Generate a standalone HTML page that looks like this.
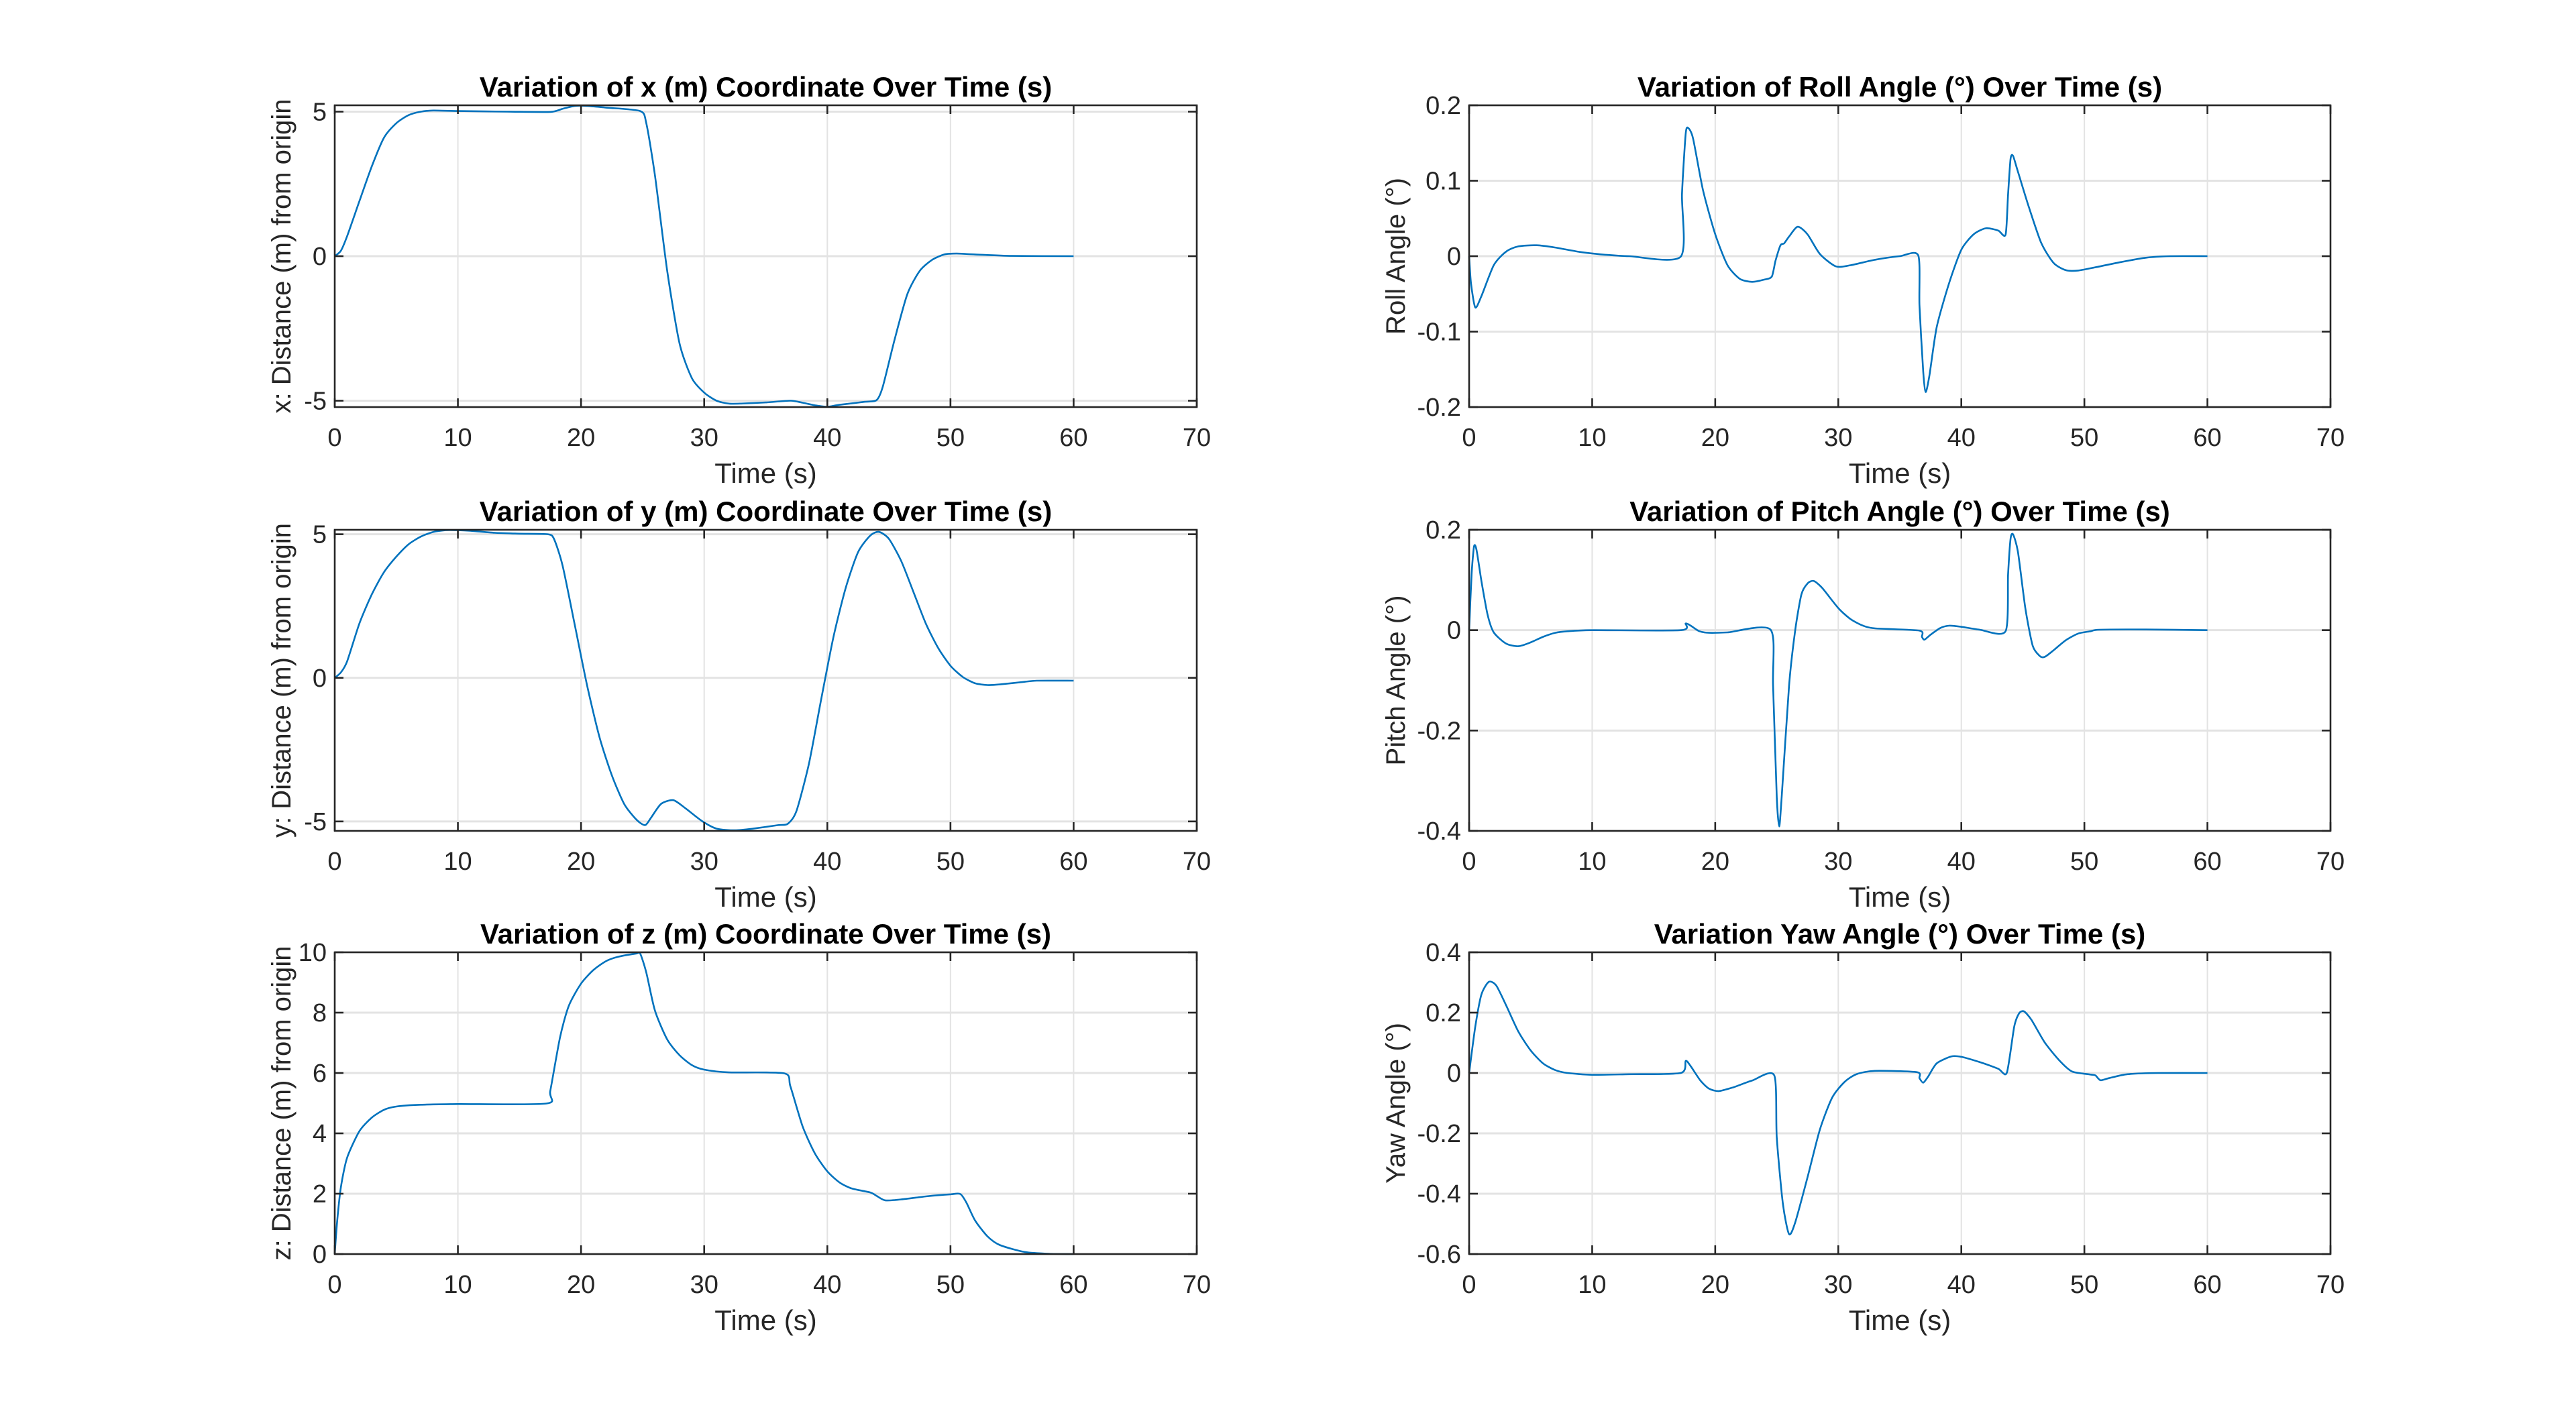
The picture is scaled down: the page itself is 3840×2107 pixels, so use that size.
<!DOCTYPE html>
<html><head><meta charset="utf-8"><title>Drone trajectory and attitude over time</title>
<style>
html,body{margin:0;padding:0;background:#fff;}
svg{display:block;}
text{font-family:"Liberation Sans",Arial,sans-serif;fill:#262626;}
</style></head>
<body>
<svg id="fig" width="3840" height="2107" viewBox="0 0 3840 2107" xmlns="http://www.w3.org/2000/svg">
<rect width="3840" height="2107" fill="#fff"/>
</svg>
<script>
// ---- data (time in s) ----
const xTicks = [0,10,20,30,40,50,60,70];

const tX = [0,0.5,1,2,3,4,5,6,7,8,10,14,17.5,18.5,19.5,20.5,22,24.8,25.3,26,27,28,29,30,31,32,33,35,37,38,39,40,41,43,44,44.5,45.5,46.5,47.5,48.5,49.5,50.5,52,55,60];
const vX = [0,0.19,0.69,1.9,3.1,4.1,4.6,4.88,5.0,5.04,5.02,5.0,4.99,5.1,5.2,5.2,5.14,5.02,4.6,2.8,-0.51,-3.02,-4.22,-4.72,-5.0,-5.1,-5.1,-5.06,-5.0,-5.07,-5.16,-5.21,-5.14,-5.04,-4.98,-4.52,-2.82,-1.31,-0.51,-0.13,0.06,0.09,0.06,0.01,0];

const tY = [0,0.5,1,2,3,4,5,6,7,8,9,10,11,13,15,17.3,17.8,18.5,19.5,20.5,21.5,22.5,23.5,24.5,25.2,25.7,26.5,27.5,28.5,29.8,31,32.5,34,36,36.8,37.5,38.5,39.5,40.5,41.5,42.5,43.5,44.2,45,46,47,48,49,50,51,52,53,54,56,57,60];
const vY = [0,0.19,0.57,1.89,2.9,3.68,4.22,4.65,4.92,5.08,5.14,5.14,5.12,5.05,5.02,5.0,4.84,3.91,1.82,-0.28,-2.07,-3.39,-4.39,-4.94,-5.13,-4.86,-4.39,-4.26,-4.55,-4.98,-5.25,-5.31,-5.25,-5.13,-5.08,-4.63,-3.0,-0.75,1.43,3.14,4.38,4.96,5.08,4.84,4.07,2.98,1.89,1.04,0.42,0.03,-0.19,-0.25,-0.23,-0.14,-0.1,-0.1];

const tZ = [0,0.2,0.5,1,2,3,4,5,7,10,17.2,17.5,18.3,19,20,21,22,23,24.5,24.8,25.3,26,27,28,29,30,32,36.5,37,38,39,40,41,42,43.5,44,44.7,46,48,50,50.8,51.3,52,53,54,56,58,60];
const vZ = [0,1.11,2.22,3.19,4.07,4.52,4.78,4.89,4.95,4.97,4.99,5.41,7.19,8.22,8.96,9.41,9.7,9.85,9.96,9.96,9.33,8.07,7.11,6.59,6.26,6.11,6.02,5.99,5.56,4.22,3.33,2.74,2.37,2.17,2.04,1.93,1.78,1.81,1.91,1.98,1.99,1.7,1.11,0.59,0.3,0.07,0.01,0];

const tRoll = [0,0.15,0.5,1,2,3,4,5.5,7,9,11,13,17.2,17.3,17.6,17.8,18.2,19,20,21,22,23,24,24.6,24.9,25.3,25.6,26,26.7,27.5,28.5,29.8,31,33,35,36.5,36.6,36.9,37.1,37.4,38,39,40,41,42,43,43.6,43.8,44,44.2,44.6,45.5,46.5,47.5,48.5,49.5,51,53,55,57,60];
const vRoll = [0,-0.036,-0.068,-0.053,-0.012,0.006,0.013,0.0145,0.0115,0.0056,0.002,0,-0.0005,0.082,0.162,0.17,0.156,0.088,0.029,-0.012,-0.03,-0.034,-0.031,-0.027,-0.006,0.0144,0.017,0.026,0.039,0.029,0.003,-0.0135,-0.012,-0.0047,0,0.001,-0.065,-0.153,-0.18,-0.159,-0.094,-0.036,0.0085,0.029,0.037,0.034,0.0286,0.082,0.129,0.133,0.112,0.0645,0.0174,-0.009,-0.0186,-0.019,-0.0144,-0.0077,-0.002,0,0];

const tPitch = [0,0.2,0.4,0.6,1,1.5,2,3,4,5,6,7,8,10,17.2,17.6,18,18.7,19.5,21,24.5,24.7,25,25.2,25.4,26,26.5,27,27.5,28,28.7,30,31,32,33,36.6,36.8,37,37.5,38.3,39,40,41.5,43.6,43.8,44,44.2,44.6,45.2,45.8,46.4,46.8,47.5,48.5,49.5,50.5,51.2,55,60];
const vPitch = [0,0.111,0.167,0.16,0.098,0.031,-0.0044,-0.0267,-0.032,-0.0244,-0.0133,-0.0053,-0.0022,0,0,0.0133,0.009,-0.002,-0.0053,-0.0044,0.0009,-0.111,-0.333,-0.391,-0.333,-0.111,0,0.071,0.093,0.098,0.084,0.044,0.022,0.009,0.0036,-0.0009,-0.0133,-0.019,-0.009,0.0044,0.0089,0.0067,0.0009,-0.002,0.111,0.182,0.191,0.156,0.044,-0.031,-0.052,-0.053,-0.04,-0.02,-0.0067,-0.0022,0.0009,0.0013,0];

const tYaw = [0,0.5,1,1.6,2.2,3,4,5,6,7,8,10,13,17.2,17.6,18,18.8,19.5,20.3,21.5,23,24.8,25,25.5,26,26.5,27.5,28.5,29.5,30.5,31.5,33,36.4,36.6,36.9,37.3,38,39.2,40,41.5,43,43.7,44.3,44.7,45.1,45.7,46.8,48,49,50.5,50.9,51.3,52,53.5,56,60];
const vYaw = [0,0.154,0.26,0.302,0.29,0.225,0.137,0.075,0.032,0.0096,0,-0.006,-0.004,0,0.04,0.023,-0.025,-0.052,-0.06,-0.047,-0.025,-0.008,-0.214,-0.433,-0.534,-0.495,-0.346,-0.188,-0.082,-0.03,-0.0035,0.007,0.0026,-0.017,-0.032,-0.012,0.032,0.055,0.0535,0.036,0.014,0.001,0.154,0.198,0.204,0.176,0.1,0.04,0.005,-0.005,-0.008,-0.024,-0.017,-0.004,0,0];

const ticksX5 = [-5,0,5];
const ticksZ = [0,2,4,6,8,10];
const ticksRoll = [-0.2,-0.1,0,0.1,0.2];
const ticksPitch = [-0.4,-0.2,0,0.2];
const ticksYaw = [-0.6,-0.4,-0.2,0,0.2,0.4];

const NS = "http://www.w3.org/2000/svg";
const svg = document.getElementById('fig');
function mk(tag, attrs, parent){
  const e = document.createElementNS(NS, tag);
  for (const k in attrs) e.setAttribute(k, attrs[k]);
  (parent||svg).appendChild(e);
  return e;
}
function fmt(v){ return String(Math.round(v*10)/10); }

// smooth path through screen points (Catmull-Rom, reduced tension)
function smoothPath(pts){
  let d = 'M' + pts[0][0].toFixed(1) + ' ' + pts[0][1].toFixed(1);
  const k = 0.12;
  for (let i=0;i<pts.length-1;i++){
    const p0 = pts[Math.max(0,i-1)], p1 = pts[i], p2 = pts[i+1], p3 = pts[Math.min(pts.length-1,i+2)];
    const c1x = p1[0] + (p2[0]-p0[0])*k, c1y = p1[1] + (p2[1]-p0[1])*k;
    const c2x = p2[0] - (p3[0]-p1[0])*k, c2y = p2[1] - (p3[1]-p1[1])*k;
    d += 'C' + c1x.toFixed(1)+' '+c1y.toFixed(1)+' '+c2x.toFixed(1)+' '+c2y.toFixed(1)+' '+p2[0].toFixed(1)+' '+p2[1].toFixed(1);
  }
  return d;
}

function panel(cfg){
  const g = mk('g', {});
  
  
  const L=cfg.L, R=cfg.R, T=cfg.T, B=cfg.T+cfg.H;
  const sx = t => L + (t - 0)/(70 - 0)*(R - L);
  const sy = v => B - (v - cfg.ymin)/(cfg.ymax - cfg.ymin)*(B - T);
  xTicks.forEach(t => {
    const l = mk('line', {x1:sx(t),x2:sx(t),y1:T,y2:B,stroke:'#e3e3e3','stroke-width':2}, g);
    
    
  });
  cfg.yticks.forEach(v => {
    const l = mk('line', {x1:L,x2:R,y1:sy(v),y2:sy(v),stroke:'#e3e3e3','stroke-width':3}, g);
    
    
  });
  const pts = cfg.t.map((t,i) => [sx(t), sy(cfg.v[i])]);
  const p = mk('path', {d:smoothPath(pts), fill:'none', stroke:'#0072BD','stroke-width':2.6,'stroke-linejoin':'round'}, g);
  
  
  const box = mk('rect', {x:L,y:T,width:R-L,height:B-T,fill:'none',stroke:'#262626','stroke-width':2.6}, g);
  
  
  xTicks.forEach(t => {
    mk('line', {x1:sx(t),x2:sx(t),y1:B,y2:B-13,stroke:'#262626','stroke-width':2.6}, g);
    mk('line', {x1:sx(t),x2:sx(t),y1:T,y2:T+13,stroke:'#262626','stroke-width':2.6}, g);
    const tx = mk('text', {x:sx(t), y:B+58, 'font-size':38, 'text-anchor':'middle'}, g);
    tx.textContent = t;
    
    
  });
  cfg.yticks.forEach(v => {
    mk('line', {x1:L,x2:L+13,y1:sy(v),y2:sy(v),stroke:'#262626','stroke-width':2.6}, g);
    mk('line', {x1:R,x2:R-13,y1:sy(v),y2:sy(v),stroke:'#262626','stroke-width':2.6}, g);
    const tx = mk('text', {x:L-12, y:sy(v)+13, 'font-size':38, 'text-anchor':'end'}, g);
    tx.textContent = fmt(v);
    
    
  });
  const ti = mk('text', {x:(L+R)/2, y:T-13, 'font-size':42, 'font-weight':'bold', 'text-anchor':'middle', style:'fill:#000'}, g);
  ti.textContent = cfg.title;
  
  
  const xl = mk('text', {x:(L+R)/2, y:B+113, 'font-size':42, 'text-anchor':'middle'}, g);
  xl.textContent = 'Time (s)';
  
  
  const yx = L - cfg.ylOff, yy = (T+B)/2;
  const yl = mk('text', {x:yx, y:yy+14, 'font-size':40, 'text-anchor':'middle', transform:'rotate(-90 '+yx+' '+yy+')'}, g);
  yl.textContent = cfg.ylabel;
  
  
}

const LL=499, LR=1784, RL=2190, RR=3474;
panel({name:'x-position-chart', L:LL,R:LR,T:157,H:450, ymin:-5.22,ymax:5.22, yticks:ticksX5, t:tX, v:vX,
  title:'Variation of x (m) Coordinate Over Time (s)', ylabel:'x: Distance (m) from origin', ylOff:80});
panel({name:'y-position-chart', L:LL,R:LR,T:790,H:449, ymin:-5.33,ymax:5.155, yticks:ticksX5, t:tY, v:vY,
  title:'Variation of y (m) Coordinate Over Time (s)', ylabel:'y: Distance (m) from origin', ylOff:80});
panel({name:'z-position-chart', L:LL,R:LR,T:1420,H:450, ymin:0,ymax:10, yticks:ticksZ, t:tZ, v:vZ,
  title:'Variation of z (m) Coordinate Over Time (s)', ylabel:'z: Distance (m) from origin', ylOff:80});
panel({name:'roll-chart', L:RL,R:RR,T:157,H:450, ymin:-0.2,ymax:0.2, yticks:ticksRoll, t:tRoll, v:vRoll,
  title:'Variation of Roll Angle (°) Over Time (s)', ylabel:'Roll Angle (°)', ylOff:110});
panel({name:'pitch-chart', L:RL,R:RR,T:790,H:449, ymin:-0.4,ymax:0.2, yticks:ticksPitch, t:tPitch, v:vPitch,
  title:'Variation of Pitch Angle (°) Over Time (s)', ylabel:'Pitch Angle (°)', ylOff:110});
panel({name:'yaw-chart', L:RL,R:RR,T:1420,H:450, ymin:-0.6,ymax:0.4, yticks:ticksYaw, t:tYaw, v:vYaw,
  title:'Variation Yaw Angle (°) Over Time (s)', ylabel:'Yaw Angle (°)', ylOff:110});
</script>
</body></html>
